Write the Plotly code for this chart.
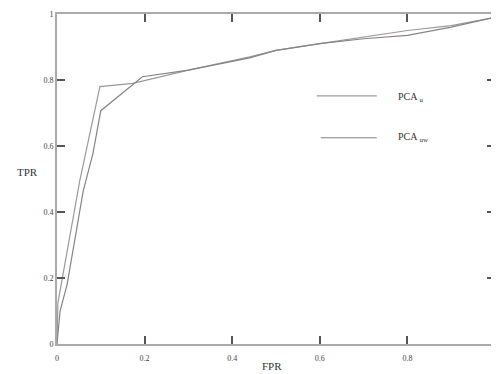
import plotly.graph_objects as go

fpr_a = [0.0, 0.002, 0.052, 0.098, 0.173, 0.30, 0.44, 0.50, 0.60, 0.70, 0.80, 0.90, 1.0]
tpr_a = [0.0, 0.124, 0.495, 0.78, 0.79, 0.83, 0.87, 0.89, 0.91, 0.93, 0.95, 0.965, 0.99]

fpr_b = [0.0, 0.007, 0.023, 0.06, 0.082, 0.10, 0.195, 0.30, 0.44, 0.50, 0.60, 0.70, 0.80, 0.90, 1.0]
tpr_b = [0.0, 0.10, 0.18, 0.465, 0.577, 0.707, 0.81, 0.83, 0.867, 0.89, 0.91, 0.925, 0.935, 0.96, 0.99]

labels = ["PCA <sub>u</sub>", "PCA <sub>uw</sub>"]
ticks = [0, 0.2, 0.4, 0.6, 0.8, 1]
tick_text = ["0", "0.2", "0.4", "0.6", "0.8", "1"]

font = "Liberation Serif, DejaVu Serif, serif"
fig = go.Figure()
fig.add_trace(go.Scatter(x=fpr_a, y=tpr_a, mode="lines", name=labels[0],
                         line=dict(color="#a09898", width=1.2), showlegend=False))
fig.add_trace(go.Scatter(x=fpr_b, y=tpr_b, mode="lines", name=labels[1],
                         line=dict(color="#858585", width=1.2), showlegend=False))

axis_common = dict(showgrid=False, zeroline=False, showline=True, linecolor="#aaaaaa",
                   linewidth=2, ticks="inside", ticklen=8, tickwidth=1.5, tickcolor="#555555",
                   mirror="ticks", tickvals=ticks, ticktext=tick_text, ticklabeloverflow="allow",
                   tickfont=dict(family=font, size=8, color="#444444"))
fig.update_xaxes(range=[0, 1], ticklabelstandoff=5, **axis_common)
fig.update_yaxes(range=[0, 1], **axis_common)

# legend drawn inside plot
fig.add_shape(type="line", xref="paper", yref="paper", x0=0.593, x1=0.73, y0=0.752, y1=0.752,
              line=dict(color="#a09898", width=1.2))
fig.add_shape(type="line", xref="paper", yref="paper", x0=0.602, x1=0.73, y0=0.625, y1=0.625,
              line=dict(color="#858585", width=1.2))
fig.add_annotation(xref="paper", yref="paper", x=0.775, y=0.773, text=labels[0], showarrow=False,
                   xanchor="left", font=dict(family=font, size=10, color="#333333"))
fig.add_annotation(xref="paper", yref="paper", x=0.775, y=0.625, text=labels[1], showarrow=False,
                   xanchor="left", font=dict(family=font, size=10, color="#333333"))

fig.add_annotation(xref="paper", yref="paper", x=-0.068, y=0.52, text="TPR", showarrow=False,
                   xanchor="center", font=dict(family=font, size=11, color="#333333"))
fig.add_annotation(xref="paper", yref="paper", x=0.49, y=-0.066, text="FPR", showarrow=False,
                   yanchor="middle", font=dict(family=font, size=11, color="#333333"))

fig.update_layout(width=491, height=366, margin=dict(l=49, r=2, t=5, b=30),
                  plot_bgcolor="white", paper_bgcolor="white")
fig.write_html("out.html")
